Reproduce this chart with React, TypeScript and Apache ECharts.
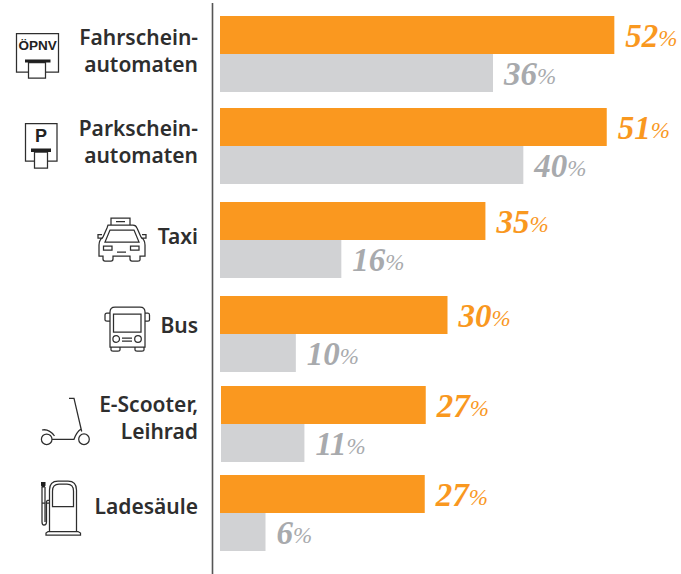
import React, { useEffect, useRef } from "react";
import * as echarts from "echarts";

const categories = ["Fahrschein-\nautomaten", "Parkschein-\nautomaten", "Taxi", "Bus", "E-Scooter,\nLeihrad", "Ladesäule"];
const orangeValues = [52, 51, 35, 30, 27, 27];
const greyValues = [36, 40, 16, 10, 11, 6];

const rowTops = [16, 108, 202, 296, 386, 475];
const rowLefts = [220, 220, 220, 220, 221, 220];
const labelLifts = [4, 4.5, 4, 9, 6.5, 7];
const ORANGE = "#fa981f";
const GREY = "#d1d2d4";
const ORANGE_TEXT = "#f9981f";
const GREY_TEXT = "#a8aaad";
const INK = "#2e2e2e";
const NUMBER_FONT = "'Liberation Serif'";

const iconPaths: Record<string, string> = {
  ticket1:
    "M29 72 H16.5 V33.5 H58.5 V72 H46 M28.5 62.5 H45.5 V78 H28.5 Z",
  ticket2:
    "M34 161 H25.5 V123.5 H57 V161 H48 M34.5 152 H47.5 V168 H34.5 Z",
  taxi:
    "M111 225 V218 H130 V225 M116 221.5 H125 M108 225 H133 Q136 225 137 228 L141 237 Q145 240 145 245 V256 H140 V260 Q140 261 138 261 H132 Q130 261 130 259 V256 H113 V259 Q113 261 111 261 H105 Q103 261 103 259 V256 H99 V245 Q99 240 103 237 L107 228 Q108 225 108 225 Z " +
    "M110 230 H134 L139 242 H105 Z M103 238 H98 V234.5 H102 M141 238 H146 V234.5 H142 M103.5 246 H112 V250 H103.5 Z M130.5 246 H139 V250 H130.5 Z M117 252 H126",
  bus:
    "M115 307 H140 Q145 307 145 312 V347 H110 V312 Q110 307 115 307 Z M113.5 314 H141 V332 H113.5 Z M110 313 H107 Q105 313 105 315 V320 Q105 321 107 321 H110 M145 313 H148 Q149.5 313 149.5 315 V320 Q149.5 321 148 321 H145 M122 338 H132 M122 341 H132 M111 347 V350 Q111 351 113 351 H118 Q120 351 120 350 V347 M135 347 V350 Q135 351 137 351 H142 Q144 351 144 350 V347 " +
    "M119.5 339 A3.3 3.3 0 1 1 112.9 339 A3.3 3.3 0 1 1 119.5 339 Z M141.3 339 A3.3 3.3 0 1 1 134.7 339 A3.3 3.3 0 1 1 141.3 339 Z",
  scooter:
    "M69 398.3 H74 L81.7 431.5 M52.5 439.3 H74 Q76.5 432 81 429 M52 439.3 A5.3 5.3 0 1 1 41.4 439.3 A5.3 5.3 0 1 1 52 439.3 Z M89.3 439.3 A5.3 5.3 0 1 1 78.7 439.3 A5.3 5.3 0 1 1 89.3 439.3 Z M42 430 Q49 428.5 54.5 436",
  pump:
    "M49.5 531.5 V490 Q49.5 481 58 481 H68 Q76.5 481 76.5 490 V531.5 M52.5 506.7 V491 Q52.5 484 59 484 H67 Q73.5 484 73.5 491 V506.7 Z M46 535 V533 L48 531.5 H78 L80.5 533 V535 Z " +
    "M42 487 V522 Q42 525 44 525 Q46.5 525 46.5 522 V502 Q46.5 500 49 500 M45 487 V522 M42 503 H45 M49 503 H47",
  plug: "M41 482 H45.5 V485.5 L44.5 487.5 H42 L41 485.5 Z M42 478 V482 M44.5 478 V482",
  slots: "M25 59.5 H50.5 V62.5 H25 Z M31 148.5 H51 V152 H31 Z",
};

Object.entries(iconPaths).forEach(([name, d]) => {
  echarts.graphic.registerShape(name, echarts.graphic.extendPath(d as any, {}) as any);
});

const outline = (name: string) => ({
  type: name,
  silent: true,
  style: { fill: "none", stroke: INK, lineWidth: 1.25 },
});
const solid = (name: string) => ({
  type: name,
  silent: true,
  style: { fill: "#1f1f1f", stroke: "none" },
});

const numberLabel = (color: string) => ({
  show: true,
  position: "right",
  distance: 11,
  offset: [0, 1],
  formatter: (p: any) => `{n|${p.value}}{p|%}`,
  rich: {
    n: { fontFamily: NUMBER_FONT, fontStyle: "italic", fontWeight: "bold", fontSize: 33, color },
    p: { fontFamily: NUMBER_FONT, fontStyle: "italic", fontSize: 23, color, padding: [4, 0, 0, 0] },
  },
});

export default function App() {
  const ref = useRef<HTMLDivElement>(null);
  useEffect(() => {
    const chart = echarts.init(ref.current!, undefined, { renderer: "svg" });
    chart.setOption({
      animation: false,
      backgroundColor: "#ffffff",
      grid: categories.map((_, i) => ({ left: rowLefts[i], top: rowTops[i], width: 455, height: 76 })),
      xAxis: categories.map((_, i) => ({ type: "value", gridIndex: i, min: 0, max: 60, show: false })),
      yAxis: categories.map((c, i) => ({
        type: "category",
        gridIndex: i,
        inverse: true,
        data: [c],
        axisLine: { show: false },
        axisTick: { show: false },
        splitLine: { show: false },
        axisLabel: {
          margin: 22 + (rowLefts[i] - 220),
          align: "right",
          formatter: (v: string) =>
            v.split("\n").map((line) => `{t|${line}}`).join("\n") + "\n{s| }",
          rich: {
            t: {
              align: "right",
              fontFamily: "'Noto Sans'",
              fontWeight: 600,
              fontSize: 21,
              lineHeight: 27,
              color: INK,
            },
            s: { fontSize: 1, lineHeight: labelLifts[i] * 2 },
          },
        },
      })),
      series: categories.flatMap((_, i) => [
        {
          type: "bar",
          name: "Orange",
          xAxisIndex: i,
          yAxisIndex: i,
          data: [orangeValues[i]],
          barWidth: 38,
          barGap: 0,
          itemStyle: { color: ORANGE },
          label: numberLabel(ORANGE_TEXT),
        },
        {
          type: "bar",
          name: "Grau",
          xAxisIndex: i,
          yAxisIndex: i,
          data: [greyValues[i]],
          barWidth: 38,
          barGap: 0,
          itemStyle: { color: GREY },
          label: numberLabel(GREY_TEXT),
        },
      ]),
      graphic: [
        { type: "line", silent: true, shape: { x1: 212.5, y1: 3, x2: 212.5, y2: 574 }, style: { stroke: "#555555", lineWidth: 1.6 } },
        ...["ticket1", "ticket2", "taxi", "bus", "scooter", "pump"].map(outline),
        solid("plug"),
        solid("slots"),
        { type: "text", silent: true, x: 37.5, y: 45.5, style: { text: "ÖPNV", fontFamily: "'Liberation Sans'", fontWeight: "bold", fontSize: 13.5, fill: "#222222", align: "center", verticalAlign: "middle" } },
        { type: "text", silent: true, x: 41, y: 135.5, style: { text: "P", fontFamily: "'Liberation Sans'", fontWeight: "bold", fontSize: 18, fill: "#222222", align: "center", verticalAlign: "middle" } },
      ],
    });
    return () => chart.dispose();
  }, []);
  return <div ref={ref} style={{ position: "absolute", left: 0, top: 0, width: 681, height: 574 }} />;
}
